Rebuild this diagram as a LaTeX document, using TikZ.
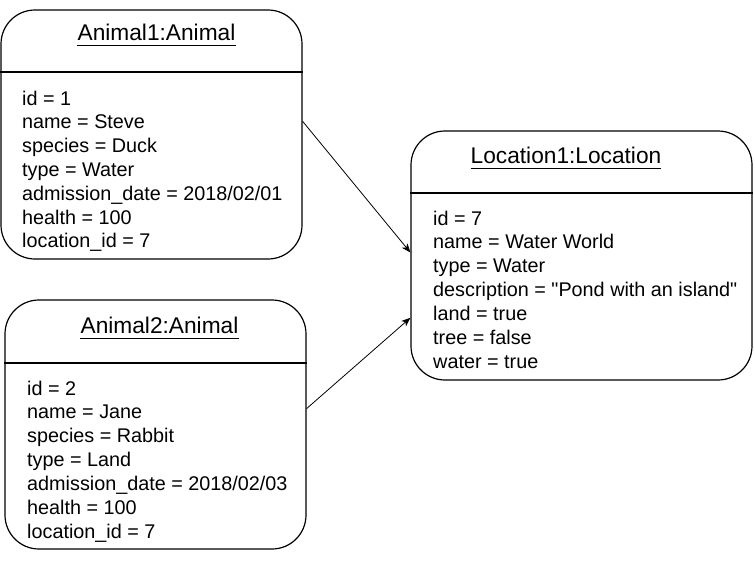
\documentclass[tikz,border=0pt]{standalone}
\usepackage{fontspec}
\setmainfont{Liberation Sans}[Ligatures=TeXOff]
\usetikzlibrary{arrows.meta}
\begin{document}
\begin{tikzpicture}[x=1pt,y=-1pt,
  objbox/.style={draw=black, line width=1.2pt, rounded corners=34pt, inner sep=0pt},
  objtitle/.style={anchor=base, inner sep=0pt, font=\fontsize{22.7}{27}\selectfont},
  attr/.style={anchor=base west, inner sep=0pt, font=\fontsize{19.8}{23.8}\selectfont},
  ulstyle/.style={line width=1.2pt},
  divider/.style={line width=1.2pt},
  link/.style={line width=0.8pt, -{Stealth[length=9pt,width=7pt,inset=2.5pt]}}]
\useasboundingbox (0,0) rectangle (755,562);
% boxes
\node[objbox, minimum width=301pt, minimum height=249pt] (a1) at (151.5,134.5) {};
\node[objbox, minimum width=301pt, minimum height=249pt] (a2) at (155.5,424.5) {};
\node[objbox, minimum width=341pt, minimum height=249pt] (loc) at (581.5,255.5) {};
% dividers
\draw[divider] (a1.west |- 0,72) -- (a1.east |- 0,72);
\draw[divider] (a2.west |- 0,363) -- (a2.east |- 0,363);
\draw[divider] (loc.west |- 0,193) -- (loc.east |- 0,193);
% titles
\node[objtitle] (t1) at (156.5,40.7) {Animal1:Animal};
\node[objtitle] (t2) at (159.5,333.3) {Animal2:Animal};
\node[objtitle] (t3) at (566,163.3) {Location1:Location};
\draw[ulstyle] ([yshift=-4.8pt]t1.base west) -- ([yshift=-4.8pt]t1.base east);
\draw[ulstyle] ([yshift=-4.8pt]t2.base west) -- ([yshift=-4.8pt]t2.base east);
\draw[ulstyle] ([yshift=-4.8pt]t3.base west) -- ([yshift=-4.8pt]t3.base east);
% attributes
\foreach \txt [count=\i from 0] in {id = 1, name = Steve, species = Duck, type = Water, admission\_date = 2018/02/01, health = 100, location\_id = 7}
  \node[attr] (a1l\i) at (22,105+23.8*\i) {\txt};
\foreach \txt [count=\i from 0] in {id = 2, name = Jane, species = Rabbit, type = Land, admission\_date = 2018/02/03, health = 100, location\_id = 7}
  \node[attr] (a2l\i) at (27,395+23.9*\i) {\txt};
\foreach \txt [count=\i from 0] in {id = 7, name = Water World, type = Water, description = "Pond with an island", land = true, tree = false, water = true}
  \node[attr] (ll\i) at (433,225+23.9*\i) {\txt};
% links
\draw[link] (a1.5.5) -- (loc.179.2);
\draw[link] (a2.6.3) -- (loc.200.7);
\end{tikzpicture}
\end{document}
